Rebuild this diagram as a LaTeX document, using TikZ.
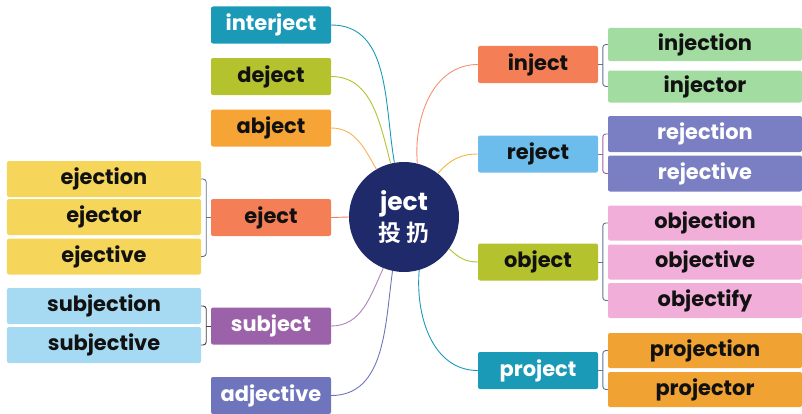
\documentclass[tikz,border=0pt]{standalone}
\usepackage{fontspec}
\setmainfont{Poppins}
\newfontfamily\cjkfont{Noto Sans CJK SC}[BoldFont=* Bold]
\usetikzlibrary{calc}
\definecolor{cteal}{HTML}{1B9AB8}
\definecolor{cygreen}{HTML}{B4C22E}
\definecolor{corange}{HTML}{F7A436}
\definecolor{corange2}{HTML}{F0A232}
\definecolor{ccoral}{HTML}{F47E55}
\definecolor{cyellow}{HTML}{F5D65A}
\definecolor{clblue}{HTML}{A5DAF2}
\definecolor{cpurple}{HTML}{9B62A9}
\definecolor{cperi}{HTML}{6F75BD}
\definecolor{cperi2}{HTML}{7A7EC3}
\definecolor{cgreen}{HTML}{A3DCA1}
\definecolor{csky}{HTML}{6DBDEC}
\definecolor{cpink}{HTML}{F0AED9}
\definecolor{cnavy}{HTML}{1F2A6B}
\definecolor{cslate}{HTML}{5F7590}
\definecolor{cink}{HTML}{111111}
\definecolor{cgold}{HTML}{F2B53A}
\tikzset{
  box/.style={rectangle, rounded corners=2bp, inner sep=0pt, font=\fontsize{21}{24}\selectfont\bfseries, text=cink},
  midbox/.style={box, minimum width=120bp, minimum height=37bp},
  lbox/.style={box, minimum width=194bp, minimum height=36bp},
  rbox/.style={box, minimum width=194bp, minimum height=35bp},
  link/.style={line width=0.9bp},
  brk/.style={line width=0.9bp, rounded corners=3bp},
}
\begin{document}
\begin{tikzpicture}[x=1bp,y=1bp]
\useasboundingbox (0,0) rectangle (802,413);
% centre
\node[circle, fill=cnavy, minimum size=110bp, inner sep=0pt, text=white, align=center] (c) at (404,196)
  {{\fontsize{25}{30}\selectfont\bfseries ject}\\[4bp]{\cjkfont\bfseries\fontsize{23}{26}\selectfont 投\hspace{6bp}扔}};
% middle left
\node[midbox, fill=cteal, text=white] (interject) at (271,388) {interject};
\node[midbox, fill=cygreen] (deject) at (271,336.5) {deject};
\node[midbox, fill=corange] (abject) at (271,285) {abject};
\node[midbox, fill=ccoral] (eject) at (271,195.5) {eject};
\node[midbox, fill=cpurple, text=white] (subject) at (271,87) {subject};
\node[midbox, fill=cperi, text=white] (adjective) at (271,17.5) {adjective};
% left children
\node[lbox, fill=cyellow] (ejection) at (104,234) {ejection};
\node[lbox, fill=cyellow] (ejector) at (104,196) {ejector};
\node[lbox, fill=cyellow] (ejective) at (104,156.5) {ejective};
\node[lbox, fill=clblue] (subjection) at (104,107) {subjection};
\node[lbox, fill=clblue] (subjective) at (104,68) {subjective};
% middle right
\node[midbox, fill=ccoral] (inject) at (538,348.5) {inject};
\node[midbox, fill=csky] (reject) at (538,259) {reject};
\node[midbox, fill=cygreen] (object) at (538,151) {object};
\node[midbox, fill=cteal, text=white] (project) at (538,42.5) {project};
% right children
\node[rbox, minimum height=33bp, fill=cgreen] (injection) at (705,368.5) {injection};
\node[rbox, minimum height=32bp, fill=cgreen] (injector) at (705,326.5) {injector};
\node[rbox, minimum height=36bp, fill=cperi2, text=white] (rejection) at (705,279) {rejection};
\node[rbox, minimum height=36bp, fill=cperi2, text=white] (rejective) at (705,239.5) {rejective};
\node[rbox, fill=cpink] (objection) at (705,190) {objection};
\node[rbox, fill=cpink] (objective) at (705,151) {objective};
\node[rbox, fill=cpink] (objectify) at (705,112.5) {objectify};
\node[rbox, fill=corange2] (projection) at (705,62.5) {projection};
\node[rbox, fill=corange2] (projector) at (705,23.5) {projector};
% links to centre
\draw[link, cteal] (interject.east) to[out=0, in=100] (c.100);
\draw[link, cygreen] (deject.east) to[out=0, in=105] (c.104);
\draw[link, corange!85] (abject.east) to[out=0, in=120] (c.120);
\draw[link, ccoral] (eject.east) -- (c.180);
\draw[link, cpurple!80] (subject.east) to[out=0, in=245] (c.248);
\draw[link, cperi] (adjective.east) to[out=0, in=262] (c.258);
\draw[link, ccoral!85] (c.76) to[out=95, in=180] (inject.west);
\draw[link, cgold] (c.52) to[out=50, in=180] (reject.west);
\draw[link, cygreen] (c.-35) to[out=-45, in=180] (object.west);
\draw[link, cteal] (c.-74) to[out=-95, in=180] (project.west);
% brackets
\draw[brk, cslate] (injection.west) -- ++(-5,0) |- (injector.west);
\draw[link, cslate] (inject.east) -- ++(5,0);
\draw[brk, cpurple] (rejection.west) -- ++(-5,0) |- (rejective.west);
\draw[link, cpurple] (reject.east) -- ++(5,0);
\draw[brk, cslate] (objection.west) -- ++(-5,0) |- (objectify.west);
\draw[link, cslate] (object.east) -- ++(5,0);
\draw[brk, cslate] (projection.west) -- ++(-5,0) |- (projector.west);
\draw[link, cslate] (project.east) -- ++(5,0);
\draw[brk, cslate] (ejection.east) -- ++(5,0) |- (ejective.east);
\draw[link, cslate] (eject.west) -- ++(-5,0);
\draw[brk, black!75] (subjection.east) -- ++(5,0) |- (subjective.east);
\draw[link, black!75] (subject.west) -- ++(-5,0);
\end{tikzpicture}
\end{document}
